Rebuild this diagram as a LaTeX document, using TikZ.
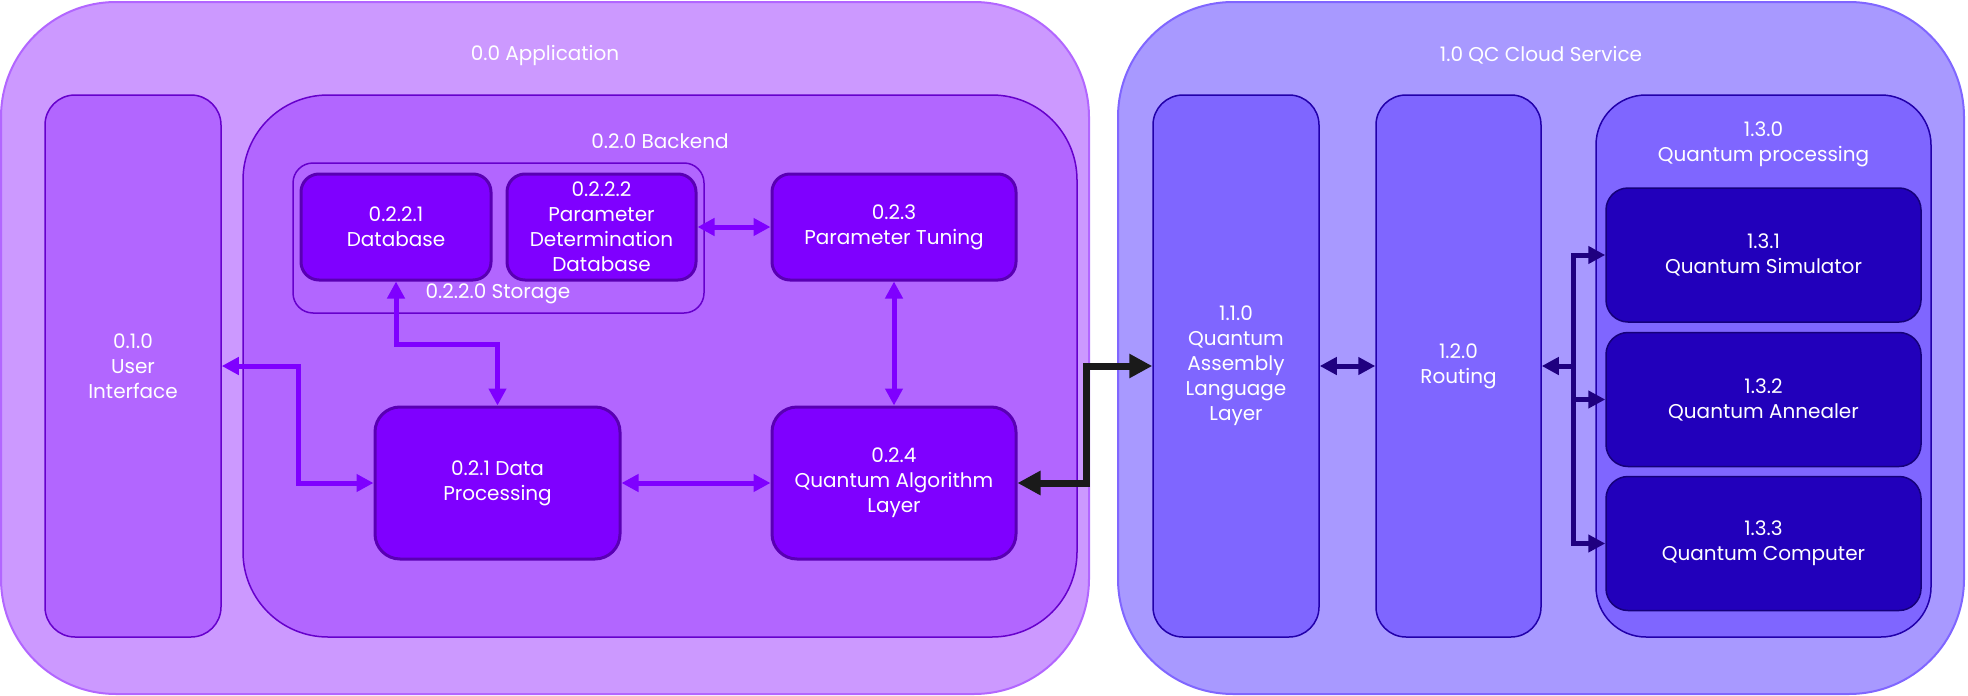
\documentclass[tikz,border=0pt]{standalone}
\usepackage{fontspec}
\setmainfont{Poppins}
\usetikzlibrary{arrows.meta}
\definecolor{appFill}{HTML}{CC99FF}
\definecolor{appLine}{HTML}{B266FF}
\definecolor{backFill}{HTML}{B266FF}
\definecolor{backLine}{HTML}{6600CC}
\definecolor{nodeFill}{HTML}{7F00FF}
\definecolor{nodeLine}{HTML}{5900B3}
\definecolor{cloudFill}{HTML}{A899FF}
\definecolor{cloudLine}{HTML}{8066FF}
\definecolor{layerFill}{HTML}{7F66FF}
\definecolor{layerLine}{HTML}{2200AA}
\definecolor{hwFill}{HTML}{2200BB}
\definecolor{hwLine}{HTML}{15007A}
\definecolor{busNavy}{HTML}{1F0080}
\definecolor{bridgeBlack}{HTML}{1A1A1A}

\begin{document}
\begin{tikzpicture}[x=1pt, y=-1pt,
	every node/.style={font=\fontsize{20}{25}\selectfont, text=white, align=center, inner sep=0pt},
	zone/.style={rectangle, line width=2pt, rounded corners=115pt},
	panel/.style={rectangle, draw=backLine, fill=backFill, line width=1.5pt, rounded corners=#1},
	block/.style={rectangle, draw=nodeLine, fill=nodeFill, line width=3pt, rounded corners=#1},
	layer/.style={rectangle, draw=layerLine, fill=layerFill, line width=1.5pt, rounded corners=#1},
	device/.style={rectangle, draw=hwLine, fill=hwFill, line width=1.5pt, rounded corners=22pt},
	linkArrow/.style={draw=nodeFill, line width=5pt, {Triangle[length=17pt,width=17pt]}-{Triangle[length=17pt,width=17pt]}},
	busArrow/.style={draw=busNavy, line width=5pt, -{Triangle[length=17pt,width=17pt]}},
	bridgeArrow/.style={draw=bridgeBlack, line width=7pt, {Triangle[length=23pt,width=23pt]}-{Triangle[length=23pt,width=23pt]}}]
	\useasboundingbox (0,0) rectangle (1968,696);

	\node[zone, draw=appLine, fill=appFill, minimum width=1088pt, minimum height=692pt] (App) at (545,348) {};
	\node (AppTitle) at (545,55) {0.0 Application};
	\node[zone, draw=cloudLine, fill=cloudFill, minimum width=846pt, minimum height=692pt] (Cloud) at (1541,348) {};
	\node (CloudTitle) at (1541,55) {1.0 QC Cloud Service};

	\node[panel=30pt, minimum width=176pt, minimum height=542pt] (UI) at (133,366) {0.1.0\\User\\Interface};
	\node[panel=85pt, minimum width=834pt, minimum height=542pt] (Backend) at (660,366) {};
	\node (BackendTitle) at (660,141) {0.2.0 Backend};
	\node[rectangle, draw=backLine, line width=1.5pt, rounded corners=20pt, minimum width=411pt, minimum height=150pt] (Storage) at (498.5,238) {};
	\node (StorageTitle) at (498,294) {0.2.2.0 Storage};
	\node[block=18pt, minimum width=190pt, minimum height=106pt] (DB) at (396,227) {0.2.2.1\\Database};
	\node[block=18pt, minimum width=189pt, minimum height=106pt] (PDDB) at (601.5,227) {0.2.2.2\\Parameter\\Determination\\Database};
	\node[block=18pt, minimum width=244pt, minimum height=106pt] (Tuning) at (894,227) {0.2.3\\Parameter Tuning};
	\node[block=25pt, minimum width=245pt, minimum height=152pt] (DataProc) at (497.5,483) {0.2.1 Data\\Processing};
	\node[block=25pt, minimum width=244pt, minimum height=152pt] (QAlg) at (894,483) {0.2.4\\Quantum Algorithm\\Layer};

	\node[layer=30pt, minimum width=166pt, minimum height=542pt] (QASM) at (1236,366) {1.1.0\\Quantum\\Assembly\\Language\\Layer};
	\node[layer=30pt, minimum width=165pt, minimum height=542pt] (Routing) at (1458.5,366) {1.2.0\\Routing};
	\node[layer=50pt, minimum width=335pt, minimum height=542pt] (QProc) at (1763.5,366) {};
	\node (QProcTitle) at (1763.5,144) {1.3.0\\Quantum processing};
	\node[device, minimum width=315pt, minimum height=134pt] (Sim) at (1763.5,255) {1.3.1\\Quantum Simulator};
	\node[device, minimum width=315pt, minimum height=134pt] (Anneal) at (1763.5,399.5) {1.3.2\\Quantum Annealer};
	\node[device, minimum width=315pt, minimum height=134pt] (Comp) at (1763.5,543.5) {1.3.3\\Quantum Computer};

	\draw[linkArrow] (UI.east) -- ++(77,0) |- (DataProc.west);
	\draw[linkArrow] (DB.south) -- ++(0,63) -| (DataProc.north);
	\draw[linkArrow] (PDDB.east) -- (Tuning.west);
	\draw[linkArrow] (Tuning.south) -- (QAlg.north);
	\draw[linkArrow] (DataProc.east) -- (QAlg.west);
	\draw[bridgeArrow] (QAlg.east) -- ++(69,0) |- (QASM.west);
	\draw[busArrow, {Triangle[length=17pt,width=17pt]}-{Triangle[length=17pt,width=17pt]}] (QASM.east) -- (Routing.west);

	\coordinate (Hub) at (1573,366);
	\draw[busArrow] (Hub) -- (Routing.east);
	\draw[busArrow] (Hub) |- (Sim.west);
	\draw[busArrow] (Hub) |- (Comp.west);
	\draw[busArrow] (Hub |- Anneal.west) -- (Anneal.west);
\end{tikzpicture}
\end{document}
